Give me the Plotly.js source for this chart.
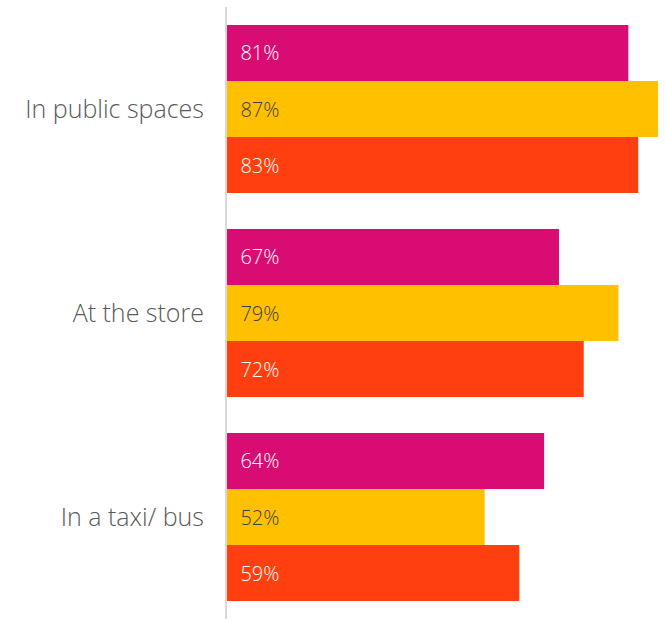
<!DOCTYPE html>
<html><head><meta charset="utf-8">
<script src="https://cdn.plot.ly/plotly-3.0.1.min.js"></script>
<style>html,body{margin:0;padding:0;background:#fff}#chart{width:666px;height:620px}</style>
</head><body><div id="chart"></div>
<script>
const categories = ["In public spaces", "At the store", "In a taxi/ bus"];
const seriesA = [81, 67, 64];
const seriesB = [87, 79, 52];
const seriesC = [83, 72, 59];
const colors = ["#D90C73", "#FFC000", "#FF3F10"];
const textColors = ["#FFFFFF", "#404040", "#FFFFFF"];
const seriesList = [seriesA, seriesB, seriesC];

const traces = seriesList.map((vals, i) => ({
  type: "bar",
  orientation: "h",
  y: categories,
  x: vals,
  marker: {color: colors[i], line: {width: 0}},
  text: vals.map(v => "\u00a0\u00a0" + v + "%"),
  textposition: "inside",
  insidetextanchor: "start",
  textangle: 0,
  textfont: {family: "'Open Sans', sans-serif", size: 20, weight: 300, color: textColors[i]},
  constraintext: "none",
  hoverinfo: "skip",
  showlegend: false
}));

const layout = {
  width: 666, height: 620,
  margin: {l: 227, r: 0, t: 7, b: 1},
  barmode: "group",
  bargap: 0.176,
  bargroupgap: 0,
  paper_bgcolor: "#fff",
  plot_bgcolor: "#fff",
  xaxis: {range: [0, 88.6], showgrid: false, zeroline: false, showticklabels: false, showline: false, fixedrange: true},
  yaxis: {autorange: "reversed", showgrid: false, zeroline: false, showline: true, linecolor: "#D9D9D9", linewidth: 2,
          ticks: "", ticklabelstandoff: 16,
          tickfont: {family: "'Open Sans', sans-serif", size: 25, weight: 300, color: "#595959"}},
  font: {family: "'Open Sans', sans-serif"}
};
Plotly.newPlot("chart", traces, layout, {displayModeBar: false, staticPlot: true});
</script></body></html>
